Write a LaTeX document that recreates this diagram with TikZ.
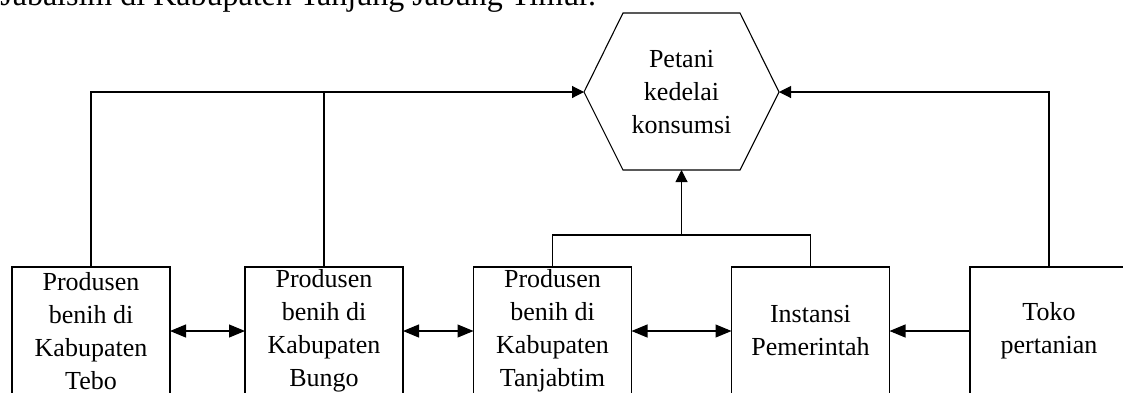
\documentclass[tikz,border=0pt]{standalone}
\usepackage{fontspec}
\setmainfont{Liberation Serif}
\usetikzlibrary{arrows.meta}

\begin{document}
\begin{tikzpicture}[x=1pt, y=-1pt,
  line width=1.1pt,
  every node/.style={inner sep=0pt, outer sep=0pt},
  label text/.style={align=center, font=\fontsize{26}{33}\selectfont},
  actor/.style={draw, label text, minimum width=158pt, minimum height=128pt},
  link/.style={line width=1.1pt},
  tohex/.style={link, -{Triangle[length=12pt, width=12pt]}},
  tobox/.style={link, -{Triangle[length=16pt, width=13pt]}},
  bothbox/.style={link, {Triangle[length=16pt, width=13pt]}-{Triangle[length=16pt, width=13pt]}}
]
\useasboundingbox (0,0) rectangle (1123,392);
\clip (0,0) rectangle (1123,392);

% caption line running in from above
\node[anchor=base east, font=\fontsize{32}{38}\selectfont] (caption) at (596,5)
  {Jabalsim di Kabupaten Tanjung Jabung Timur.};

% consumer hexagon
\coordinate (hexL) at (584,92);
\coordinate (hexR) at (779,92);
\coordinate (hexB) at (681.5,170);
\draw (623,13) -- (740,13) -- (hexR) -- (740,170) -- (623,170) -- (hexL) -- cycle;
\node[label text] (farmer) at (681.5,92) {Petani\\kedelai\\konsumsi};

% actors
\node[actor] (tebo)  at (91,331)   {Produsen\\benih di\\Kabupaten\\Tebo};
\node[actor] (bungo) at (324,331)  {Produsen\\benih di\\Kabupaten\\Bungo};
\node[actor] (tjt)   at (552.5,331) {Produsen\\benih di\\Kabupaten\\Tanjabtim};
\node[actor] (gov)   at (810.5,331) {Instansi\\Pemerintah};
\node[actor] (shop)  at (1049,331) {Toko\\pertanian};

% supply lines to the farmers
\draw[tohex] (tebo.north) |- (hexL);
\draw[link] (bungo.north) -- (bungo.north |- hexL);
\draw[tohex] (shop.north) |- (hexR);
\coordinate (join) at (681.5,235);
\draw[link] (tjt.north) |- (join) -| (gov.north);
\draw[tohex] (join) -- (hexB);

% links between actors
\draw[bothbox] (tebo.east) -- (bungo.west);
\draw[bothbox] (bungo.east) -- (tjt.west);
\draw[bothbox] (tjt.east) -- (gov.west);
\draw[tobox] (shop.west) -- (gov.east);
\end{tikzpicture}
\end{document}
